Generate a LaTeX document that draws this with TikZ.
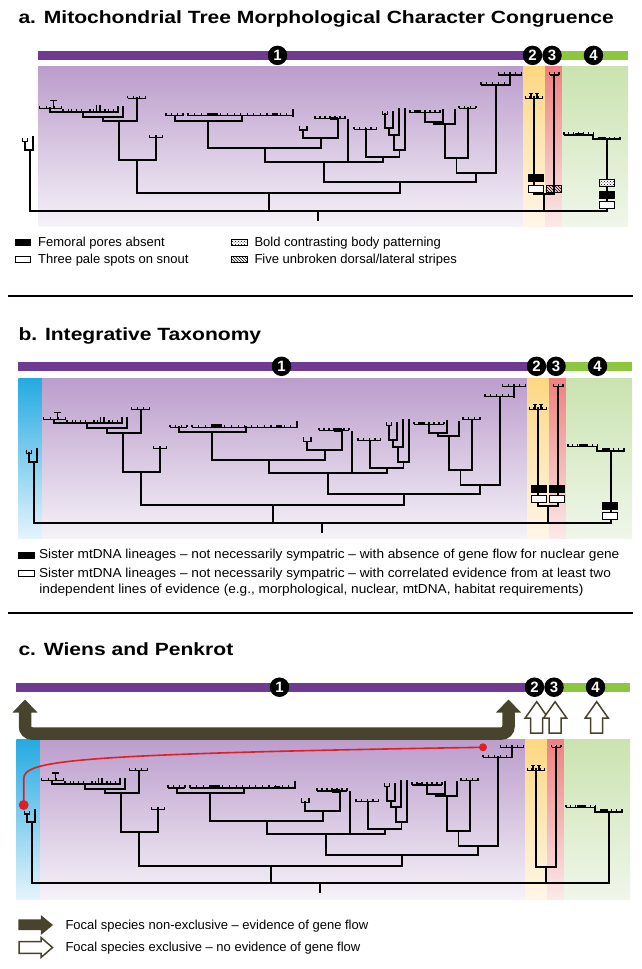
\documentclass[tikz,border=0pt]{standalone}
\usepackage{fontspec}
\setmainfont{Liberation Sans}
\usepackage{graphicx}
\usetikzlibrary{patterns,positioning}

\definecolor{barpurple}{RGB}{111,59,146}
\definecolor{bargreen}{RGB}{141,198,63}
\definecolor{lilactop}{RGB}{188,157,204}
\definecolor{lilacbot}{RGB}{245,242,248}
\definecolor{suntop}{RGB}{253,216,130}
\definecolor{sunbot}{RGB}{255,246,232}
\definecolor{rosetop}{RGB}{239,128,128}
\definecolor{rosebot}{RGB}{251,233,233}
\definecolor{leaftop}{RGB}{202,227,176}
\definecolor{leafbot}{RGB}{240,246,234}
\definecolor{skytop}{RGB}{36,170,226}
\definecolor{skybot}{RGB}{228,244,252}
\definecolor{arrowolive}{RGB}{72,67,45}
\definecolor{flowred}{RGB}{225,30,36}

\newcommand{\wide}[1]{\scalebox{1.19}[1]{#1}}
\newcommand{\widelgd}[1]{\scalebox{1.05}[1]{#1}}
\newcommand{\comb}[4]{\draw[tick] (#2,#1) -- (#3,#1);
  \foreach \k in {0,...,#4} \draw[tick] ({#2+(#3-#2)*\k/#4},#1) -- ++(0,-2.8);}
\newcommand{\panelbg}{%
  \shade[top color=lilactop,bottom color=lilacbot] (38,0) rectangle (523,160);
  \shade[top color=suntop,bottom color=sunbot] (523,0) rectangle (545,160);
  \shade[top color=rosetop,bottom color=rosebot] (545,0) rectangle (562,160);
  \shade[top color=leaftop,bottom color=leafbot] (562,0) rectangle (628,160);}
\newcommand{\numbar}[3]{%
  \fill[barpurple] (#3,#2-4.65) rectangle (528,#2+4.65);
  \fill[bargreen] (556,#2-4.65) rectangle (628,#2+4.65);
  \node[num] (#1n1) at (277.5,#2) {1};
  \node[num] (#1n2) at (532.5,#2) {2};
  \node[num] (#1n3) at (552,#2) {3};
  \node[num] (#1n4) at (593.5,#2) {4};}
\newcommand{\hollowarrow}[1]{\draw[hollowup] (#1-6,-6) -- (#1-6,-21) -- (#1-11.5,-21)
  -- (#1,-37.3) -- (#1+11.5,-21) -- (#1+6,-21) -- (#1+6,-6) -- cycle;}
\newcommand{\phylotree}{%
  % root and outgroup
  \draw[br] (30,83.3) -- (30,144.3) -- (606.7,144.3) -- (606.7,72.6);
  \draw[br] (317.7,144.3) -- ++(0,9);
  \draw[br] (269,126.6) -- (269,144.3);
  \draw[br] (544,127.6) -- (544,144.3);
  \draw[br] (25,75) |- (33.3,83.3) -- (33.3,70.6);
  \draw[tick] (22.5,71.5) |- (27.5,75) -- (27.5,71.5);
  % clade 1, left
  \draw[br] (137.3,93.3) |- (400,126.6) -- (400,115.6);
  \draw[br] (119.3,54.3) |- (156,93.3) -- (156,70.6);
  \comb{70.6}{149.3}{162.7}{2}
  \draw[br] (103.3,50) |- (136.7,54.3) -- (136.7,31.6);
  \comb{31.6}{127.7}{145.7}{3}
  \draw[br] (83.3,45) |- (123.3,50) -- (123.3,40);
  \draw[br] (50,41.6) |- (118.3,45) -- (118.3,40);
  \foreach \tx in {63,68.3,71.7,76.7,81.7,90,93.3,105,108.3,113.3} \draw[tick] (\tx,45) -- ++(0,-3);
  \foreach \tx in {96.7,100} \draw[tick] (\tx,45) -- ++(0,-6.5);
  \comb{41.6}{39.3}{61.7}{3}
  \draw[tick] (53.3,41.6) -- (53.3,34);
  \draw[tick] (50,34) -- (57,34);
  % clade 1, right
  \draw[br] (324,95) |- (476,115.6) -- (476,106.6);
  \draw[br] (265,81.6) |- (383.3,95) -- (383.3,90);
  \draw[br] (348.3,95) -- (348.3,53.3);
  \draw[br] (208,54) |- (321,81.6) -- (321,71.6);
  \draw[br] (175,49) |- (242.3,54) -- (242.3,49);
  \comb{49}{166}{183}{3}
  \comb{49}{188}{293.3}{16}
  \draw[br] (293.3,49) -- (293.3,43.3);
  \fill (207,46) rectangle (218,49);
  \fill (272,46.5) rectangle (278,49);
  \draw[br] (303.3,63.3) |- (338.3,71.6) -- (338.3,52);
  \draw[tick] (299.5,59) |- (307,63.3) -- (307,59);
  \comb{52}{315}{345}{6}
  \fill (330,50) rectangle (338,53.5);
  \draw[br] (366,62.6) |- (399.5,90) -- (399.5,83.3);
  \comb{62.6}{354}{376.7}{4}
  \draw[br] (394,68.3) |- (405,83.3) -- (405,42);
  \draw[br] (389,61.6) |- (399.3,68.3) -- (399.3,42);
  \draw[br] (385,47.5) |- (392.7,61.6) -- (392.7,45);
  \draw[tick] (382.5,44) |- (387.5,47.5) -- (387.5,44);
  \draw[br] (456.5,91.6) |- (496,106.6) -- (496,18.3);
  \comb{18.3}{481}{510.7}{5}
  \draw[br] (510,18.3) -- (510,8.3);
  \comb{8.3}{498.3}{521.7}{4}
  \draw[br] (445,57.3) |- (468,91.6) -- (468,41.6);
  \comb{41.6}{459}{476}{3}
  \draw[br] (434,55) |- (455,57.3) -- (455,43.3);
  \draw[br] (425,46) |- (443.3,55) -- (443.3,43);
  \comb{46}{410}{440}{6}
  \fill (415,43.5) rectangle (421,46);
  % clades 2 and 3
  \draw[br] (534,31.6) |- (554,127.6) -- (554,8.3);
  \comb{31.6}{525.3}{542.7}{4}
  \draw[tick] (531,31.6) -- (531,26.6);
  \draw[tick] (537,31.6) -- (537,26.6);
  \draw[tick] (529,26.6) -- (533,26.6);
  \draw[tick] (535,26.6) -- (539,26.6);
  \comb{8.3}{549.5}{559}{2}
  % clade 4
  \draw[br] (593.3,68.3) |- (620,72.6);
  \comb{72.6}{593.3}{620}{5}
  \comb{68.3}{564}{593.3}{6}
  \fill (575,65.8) rectangle (583,68.3);
  \fill (599,70) rectangle (606,72.6);}

\begin{document}
\begin{tikzpicture}[x=1pt,y=-1pt,
  br/.style={line width=1.9pt,line cap=rect},
  tick/.style={line width=1.1pt},
  ttl/.style={anchor=base west,inner sep=0pt,font=\fontsize{17.7}{20}\selectfont\bfseries},
  lgd/.style={anchor=base west,inner sep=0pt,font=\fontsize{13}{15}\selectfont},
  num/.style={circle,fill=black,text=white,inner sep=0pt,minimum size=19.5pt,font=\fontsize{15}{15}\selectfont\bfseries},
  chbox/.style={draw=black,line width=0.8pt,minimum width=15.5pt,minimum height=7pt,inner sep=0pt},
  keybox/.style={chbox,minimum height=6pt},
  hollowup/.style={fill=white,draw=arrowolive,line width=1.5pt,line join=miter},
  reddot/.style={circle,fill=flowred,inner sep=0pt,minimum size=8pt},
  flowline/.style={flowred,line width=1.6pt},
  rule/.style={line width=1.8pt}]
\useasboundingbox (0,0) rectangle (641,969);
\fill[white] (0,0) rectangle (641,969);

% panel a
\node[ttl] (ttla) at (18.3,23.3) {\wide{a. Mitochondrial Tree Morphological Character Congruence}};
\begin{scope}[shift={(0,66.7)}]
  \panelbg
  \numbar{a}{-11.3}{38}
  \phylotree
  \node[chbox,fill=black] (a2pores) at (536,111.2) {};
  \node[chbox,fill=white] (a2spots) at (536,121.8) {};
  \node[chbox,fill=white,pattern=north west lines] (a3stripes) at (554,121.8) {};
  \node[chbox,fill=white] at (607,116.5) {};
  \node[chbox,pattern=crosshatch dots] (a4bold) at (607,116.5) {};
  \node[chbox,fill=black] (a4pores) at (607,127.8) {};
  \node[chbox,fill=white] (a4spots) at (607,138.3) {};
\end{scope}
\node[keybox,fill=black] (keypores) at (23,242.7) {};
\node[lgd] (txtpores) at (38,246.3) {Femoral pores absent};
\node[keybox,fill=white] (keyspots) at (23,259.2) {};
\node[lgd] (txtspots) at (38,263.3) {Three pale spots on snout};
\node[keybox,pattern=crosshatch dots] (keybold) at (239.4,242) {};
\node[lgd] (txtbold) at (254.3,246.3) {Bold contrasting body patterning};
\node[keybox,pattern=north west lines] (keystripes) at (239.4,259.2) {};
\node[lgd] (txtstripes) at (254.3,263.3) {Five unbroken dorsal/lateral stripes};

\draw[rule] (8,296) -- (633,296);

% panel b
\node[ttl] (ttlb) at (18.3,340) {\wide{b. Integrative Taxonomy}};
\begin{scope}[shift={(4,378.3)}]
  \shade[top color=skytop,bottom color=skybot] (14.4,0) rectangle (38,160);
  \panelbg
  \numbar{b}{-12}{14.4}
  \phylotree
  \node[chbox,fill=black] (b2flow) at (535,110.5) {};
  \node[chbox,fill=white] (b2lines) at (535,120.7) {};
  \node[chbox,fill=black] (b3flow) at (553,110.5) {};
  \node[chbox,fill=white] (b3lines) at (553,120.7) {};
  \node[chbox,fill=black] (b4flow) at (606,128) {};
  \node[chbox,fill=white] (b4lines) at (606,137.2) {};
\end{scope}
\node[keybox,fill=black] (keyflow) at (26.5,555.8) {};
\node[lgd] (txtflow) at (38.8,558.3) {\widelgd{Sister mtDNA lineages -- not necessarily sympatric -- with absence of gene flow for nuclear gene}};
\node[keybox,fill=white] (keylines) at (26.5,573.5) {};
\node[lgd] (txtlines) at (38.8,577) {\widelgd{Sister mtDNA lineages -- not necessarily sympatric -- with correlated evidence from at least two}};
\node[lgd] (txtlinesb) at (39.2,593) {\widelgd{independent lines of evidence (e.g., morphological, nuclear, mtDNA, habitat requirements)}};

\draw[rule] (8,613) -- (633,613);

% panel c
\node[ttl] (ttlc) at (18.3,655) {\wide{c. Wiens and Penkrot}};
\begin{scope}[shift={(2,739)}]
  \shade[top color=skytop,bottom color=skybot] (14.4,0) rectangle (38,160);
  \panelbg
  \numbar{c}{-51.8}{14.4}
  \draw[arrowolive,line width=12.5pt,rounded corners=7pt] (23,-27) -- (23,-5.5) -- (506.5,-5.5) -- (506.5,-27);
  \fill[arrowolive] (10.5,-26.5) -- (23,-39.5) -- (35.5,-26.5) -- cycle;
  \fill[arrowolive] (494,-26.5) -- (506.5,-39.5) -- (519,-26.5) -- cycle;
  \hollowarrow{534.7}
  \hollowarrow{553.1}
  \hollowarrow{594.7}
  \phylotree
  \node[reddot] (flowsrc) at (481,8.3) {};
  \node[reddot,minimum height=10pt] (flowdst) at (21.7,66) {};
  \draw[flowline] (flowdst.center) -- (21.7,40) .. controls (21.7,22) and (60,15) .. (flowsrc.center);
\end{scope}
\fill[arrowolive] (18.4,919.3) rectangle (41,930) (40.8,915) -- (53,925) -- (40.8,935) -- cycle;
\node[lgd] (txtnonex) at (65.3,929.3) {Focal species non-exclusive -- evidence of gene flow};
\draw[hollowup] (19.2,941.7) -- (41,941.7) -- (41,937.5) -- (52.5,947.5) -- (41,957.5) -- (41,953.3) -- (19.2,953.3) -- cycle;
\node[lgd] (txtex) at (65.3,951.7) {Focal species exclusive -- no evidence of gene flow};
\end{tikzpicture}
\end{document}
